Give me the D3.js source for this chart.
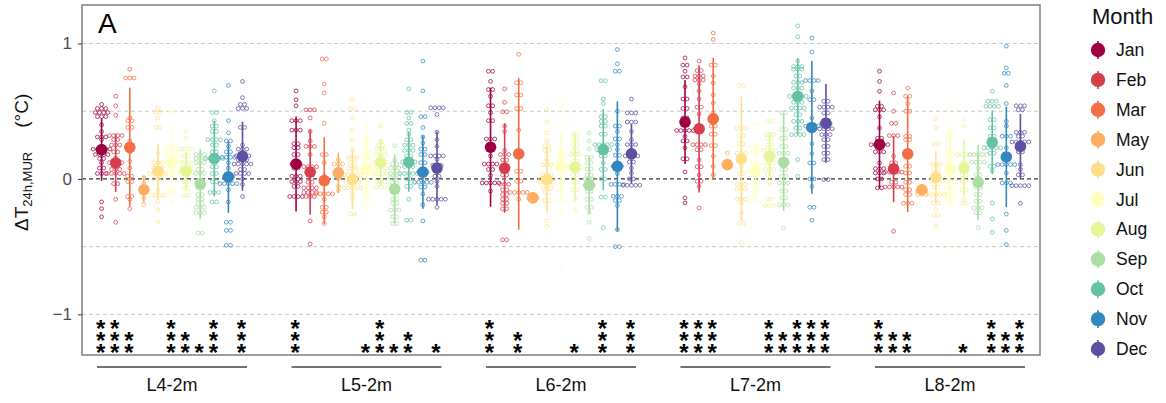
<!DOCTYPE html>
<html>
<head>
<meta charset="utf-8">
<script src="https://cdn.jsdelivr.net/npm/d3@7"></script>
<style>
body { margin: 0; background: #fff; }
text { font-family: "Liberation Sans", Arial, sans-serif; }
</style>
</head>
<body>
<svg id="chart" width="1166" height="403"></svg>
<script>
// Categories
var sites = ["L4-2m", "L5-2m", "L6-2m", "L7-2m", "L8-2m"];
var months = ["Jan", "Feb", "Mar", "May", "Jun", "Jul", "Aug", "Sep", "Oct", "Nov", "Dec"];
var yTicks = [-1, 0, 1];
var yGrid = [-1, -0.5, 0.5, 1];

// Monthly means and SD of dT (degC), one value per month
var meanL4 = [0.216, 0.118, 0.233, -0.08, 0.057, 0.125, 0.057, -0.037, 0.15, 0.015, 0.167];
var sdL4   = [0.23, 0.215, 0.44, 0.10, 0.20, 0.145, 0.14, 0.26, 0.28, 0.265, 0.255];
var meanL5 = [0.11, 0.05, -0.012, 0.045, -0.005, 0.074, 0.123, -0.074, 0.125, 0.05, 0.08];
var sdL5   = [0.35, 0.315, 0.32, 0.15, 0.22, 0.245, 0.175, 0.255, 0.22, 0.27, 0.27];
var meanL6 = [0.234, 0.08, 0.185, -0.14, -0.005, 0.093, 0.086, -0.047, 0.216, 0.093, 0.185];
var sdL6   = [0.44, 0.33, 0.56, 0.02, 0.245, 0.24, 0.245, 0.21, 0.30, 0.48, 0.22];
var meanL7 = [0.42, 0.37, 0.443, 0.106, 0.148, 0.06, 0.167, 0.123, 0.61, 0.38, 0.41];
var sdL7   = [0.31, 0.47, 0.45, 0.03, 0.46, 0.21, 0.17, 0.36, 0.28, 0.49, 0.29];
var meanL8 = [0.253, 0.074, 0.185, -0.08, 0.012, 0.074, 0.08, -0.025, 0.27, 0.162, 0.24];
var sdL8   = [0.325, 0.245, 0.43, 0.03, 0.195, 0.28, 0.205, 0.28, 0.235, 0.37, 0.24];

// Significance stars per month (number of *)
var starsL4 = [3, 3, 2, 0, 0, 3, 2, 1, 3, 0, 3];
var starsL5 = [3, 0, 0, 0, 0, 1, 3, 1, 2, 0, 1];
var starsL6 = [3, 0, 2, 0, 0, 0, 1, 0, 3, 0, 3];
var starsL7 = [3, 3, 3, 0, 0, 0, 3, 2, 3, 3, 3];
var starsL8 = [3, 2, 2, 0, 0, 0, 1, 0, 3, 2, 3];

// Daily values, binned: [value, number of dots in the bin]
var dotsL4 = [
  [[.55,1],[.52,3],[.49,4],[.46,3],[.40,1],[.35,1],[.31,3],[.29,1],[.22,5],[.18,4],[.15,2],[.12,1],[.08,2],[.04,3],[-.17,1],[-.22,1],[-.28,1]],
  [[.61,1],[.54,1],[.47,1],[.32,4],[.29,2],[.25,3],[.20,2],[.155,1],[.12,4],[.07,3],[.04,5],[-.035,2],[-.15,1],[-.32,1]],
  [[.81,1],[.745,3],[.45,1],[.43,2],[.38,2],[.28,1],[.20,1],[.13,1],[.08,1],[.02,2],[-.02,2],[-.13,2],[-.15,1],[-.22,1]],
  [[.01,1],[-.03,1],[-.08,2],[-.14,1],[-.19,1]],
  [[.52,1],[.49,2],[.45,1],[.38,2],[.19,1],[.12,3],[.08,3],[.04,5],[0,3],[-.08,1],[-.12,4],[-.165,1],[-.23,1],[-.32,1]],
  [[.49,2],[.38,1],[.31,1],[.24,3],[.20,4],[.17,4],[.125,5],[.08,3],[.04,5],[-.066,3],[-.10,2],[-.17,1]],
  [[.35,1],[.30,1],[.22,4],[.17,2],[.12,3],[.08,3],[.05,4],[-.02,2],[-.07,2],[-.12,2]],
  [[.18,3],[.15,3],[.12,3],[.07,2],[.04,3],[-.01,2],[-.04,1],[-.066,2],[-.115,2],[-.15,2],[-.18,2],[-.21,3],[-.25,3],[-.40,2]],
  [[.65,1],[.49,2],[.43,1],[.39,2],[.35,2],[.29,4],[.25,2],[.20,2],[.15,5],[.09,2],[.04,2],[-.02,2],[-.10,3],[-.17,2]],
  [[.69,1],[.43,1],[.34,1],[.28,2],[.24,1],[.20,2],[.16,4],[.12,1],[.08,1],[.015,3],[-.035,5],[-.08,1],[-.17,1],[-.32,2],[-.38,2],[-.49,2]],
  [[.72,1],[.60,1],[.55,2],[.52,3],[.38,2],[.25,1],[.22,3],[.17,4],[.14,3],[.11,5],[.07,2],[.04,4],[0,1],[-.04,1],[-.13,1]]
];
var dotsL5 = [
  [[.65,1],[.585,1],[.54,1],[.43,3],[.36,3],[.26,2],[.23,2],[.18,2],[.11,3],[.08,2],[.02,3],[-.02,3],[-.055,2],[-.13,4]],
  [[.51,3],[.45,1],[.35,1],[.28,1],[.24,3],[.18,1],[.09,4],[.045,2],[-.025,2],[-.066,4],[-.10,4],[-.13,3],[-.31,1],[-.48,1]],
  [[.885,2],[.70,1],[.635,1],[.41,1],[.18,2],[.12,1],[.02,1],[-.11,5],[-.15,1],[-.21,2],[-.245,2],[-.28,1],[-.33,1]],
  [[.14,1],[.11,3],[.07,1],[0,1],[-.055,1],[-.085,1]],
  [[.59,1],[.52,2],[.45,1],[.36,1],[.29,1],[.22,1],[.16,3],[.12,2],[.08,3],[.03,5],[-.025,4],[-.065,5],[-.115,1],[-.15,1],[-.26,2]],
  [[.39,1],[.33,1],[.28,2],[.23,2],[.19,3],[.155,3],[.11,2],[.07,5],[.04,5],[0,3],[-.055,3],[-.10,2],[-.15,2],[-.21,1]],
  [[.39,1],[.28,1],[.25,2],[.22,3],[.18,3],[.12,4],[.08,3],[.04,4],[-.02,3],[-.06,3]],
  [[.245,1],[.14,1],[.11,2],[.08,3],[.04,3],[.01,3],[-.03,2],[-.10,2],[-.15,2],[-.18,2],[-.23,3],[-.28,2],[-.33,2]],
  [[.665,1],[.49,2],[.45,1],[.41,2],[.36,1],[.33,1],[.29,2],[.25,3],[.21,3],[.17,2],[.125,4],[.09,3],[.04,5],[0,2],[-.055,2],[-.15,1],[-.305,2]],
  [[.87,1],[.65,1],[.46,2],[.38,1],[.31,1],[.265,1],[.22,2],[.18,2],[.12,2],[.05,3],[-.025,5],[-.06,2],[-.11,1],[-.19,1],[-.31,1],[-.60,2]],
  [[.525,4],[.475,1],[.345,1],[.29,1],[.24,1],[.17,4],[.145,1],[.10,3],[.07,2],[.02,2],[-.02,1],[-.055,1],[-.15,5],[-.21,1]]
];
var dotsL6 = [
  [[.795,2],[.72,1],[.66,2],[.61,1],[.54,2],[.49,1],[.43,2],[.295,3],[.24,1],[.17,1],[.11,4],[.07,2],[.025,1],[-.03,5],[-.09,1]],
  [[.665,1],[.565,1],[.495,2],[.39,1],[.35,1],[.21,1],[.18,3],[.14,2],[.03,2],[-.04,3],[-.08,2],[-.115,2],[-.15,2],[-.18,2],[-.22,2],[-.45,2]],
  [[.92,1],[.71,2],[.62,2],[.52,2],[.36,1],[.057,2],[-.017,2],[-.10,5],[-.15,1]],
  [[-.12,2],[-.14,3],[-.15,1]],
  [[.51,1],[.42,1],[.34,1],[.28,1],[.245,2],[.21,2],[.14,1],[.105,3],[.03,3],[0,4],[-.025,4],[-.066,3],[-.10,2],[-.16,2],[-.31,1],[-.35,1]],
  [[.54,1],[.50,1],[.39,1],[.315,1],[.22,1],[.19,3],[.155,3],[.12,3],[.09,4],[.045,2],[-.017,2],[-.08,2],[-.16,3],[-.24,1],[-.65,1]],
  [[.335,2],[.295,2],[.253,2],[.21,2],[.18,3],[.13,2],[.086,4],[.03,2],[-.025,2],[-.08,2],[-.15,1],[-.235,1]],
  [[.34,1],[.28,1],[.22,1],[.16,2],[.12,2],[.074,2],[.03,2],[0,3],[-.047,3],[-.09,2],[-.15,2],[-.21,2],[-.25,1],[-.32,1],[-.44,1]],
  [[.725,2],[.59,1],[.556,1],[.46,2],[.425,2],[.39,2],[.33,2],[.253,5],[.216,4],[.17,2],[.118,1],[.07,2],[0,2],[-.135,2],[-.36,1]],
  [[.955,1],[.85,1],[.795,2],[.50,1],[.39,2],[.35,1],[.295,2],[.253,1],[.216,1],[.175,2],[.093,3],[.04,1],[-.04,4],[-.128,3],[-.16,2],[-.197,1],[-.374,1],[-.50,2]],
  [[.59,1],[.487,3],[.42,3],[.35,1],[.29,1],[.253,3],[.216,1],[.17,4],[.125,2],[.08,1],[.044,1],[0,2],[-.047,5]]
];
var dotsL7 = [
  [[.893,1],[.84,2],[.795,1],[.753,2],[.68,1],[.59,2],[.52,2],[.45,2],[.357,5],[.315,1],[.28,2],[.23,1],[.148,2],[.052,1],[-.14,1],[-.177,1]],
  [[.87,1],[.80,2],[.76,3],[.73,3],[.70,1],[.65,1],[.59,1],[.53,2],[.48,1],[.365,2],[.253,4],[.216,2],[.14,1],[.09,2],[.03,1],[-.017,2],[-.055,1],[-.214,1]],
  [[1.077,1],[1.03,1],[.84,2],[.758,1],[.708,1],[.62,1],[.56,1],[.49,1],[.39,2],[.33,2],[.246,2],[.167,1],[.093,1],[.03,1]],
  [[.19,1],[.13,1],[.106,2],[.08,1]],
  [[.69,2],[.376,3],[.32,2],[.258,2],[.19,3],[.093,1],[.04,2],[-.04,3],[-.074,3],[-.15,3],[-.18,1],[-.25,1],[-.33,2],[-.47,1]],
  [[.58,1],[.41,2],[.24,3],[.20,2],[.118,3],[.06,4],[.02,2],[-.04,2],[-.10,2],[-.165,3],[-.46,1]],
  [[.425,2],[.33,3],[.30,2],[.25,2],[.21,4],[.167,3],[.118,3],[.07,3],[.03,2],[-.037,1],[-.15,2],[-.197,3]],
  [[.49,2],[.364,2],[.30,2],[.24,2],[.19,3],[.123,2],[.07,2],[.02,2],[-.03,3],[-.09,2],[-.14,2],[-.19,3],[-.36,1]],
  [[1.13,1],[1.05,1],[.873,1],[.83,3],[.81,3],[.76,2],[.713,3],[.67,3],[.61,5],[.565,3],[.524,4],[.475,2],[.425,3],[.376,2],[.327,4],[.143,1],[.02,1]],
  [[1.04,1],[.937,1],[.726,4],[.65,1],[.585,2],[.45,1],[.39,4],[.26,1],[.187,1],[.118,2],[0,2],[-.055,1],[-.21,2],[-.305,1]],
  [[.573,2],[.53,4],[.487,2],[.433,2],[.41,3],[.37,4],[.327,3],[.29,2],[.24,2],[.19,2],[.143,2],[-.005,2]]
];
var dotsL8 = [
  [[.795,1],[.72,1],[.647,1],[.536,2],[.51,3],[.458,1],[.376,1],[.30,2],[.28,2],[.253,5],[.20,3],[.118,1],[.076,3],[.044,3],[0,2],[-.066,2]],
  [[.635,1],[.50,1],[.41,2],[.32,3],[.167,1],[.118,2],[.05,5],[-.025,2],[-.06,5],[-.386,1]],
  [[.67,1],[.61,2],[.556,1],[.50,2],[.315,2],[.29,2],[.093,2],[.044,2],[-.025,2],[-.08,2],[-.115,2],[-.18,3]],
  [[-.066,2],[-.09,3],[-.115,3]],
  [[.445,1],[.38,1],[.26,2],[.11,3],[.07,2],[-.017,3],[-.06,2],[-.115,5],[-.177,2],[-.226,1],[-.27,2],[-.35,1]],
  [[.536,1],[.425,1],[.347,2],[.315,2],[.253,2],[.21,2],[.18,4],[.143,2],[.03,3],[-.017,3],[-.066,3],[-.115,3],[-.15,2],[-.18,2],[-.50,1]],
  [[.44,1],[.39,1],[.18,4],[.118,2],[.03,2],[-.017,2],[-.08,2],[-.15,1],[-.18,2]],
  [[.18,5],[.123,4],[.08,1],[.03,2],[-.066,2],[-.115,2],[-.165,2],[-.214,3],[-.25,2],[-.36,1]],
  [[.647,1],[.573,3],[.536,4],[.438,2],[.376,2],[.315,2],[.23,5],[.19,2],[.093,2],[.06,1],[-.177,1],[-.295,1],[-.394,1]],
  [[.98,1],[.82,1],[.78,2],[.69,1],[.556,1],[.425,1],[.39,1],[.315,3],[.23,1],[.18,2],[.106,5],[.044,1],[-.03,3],[-.26,1],[-.38,1],[-.485,1]],
  [[.54,3],[.51,2],[.344,3],[.315,2],[.273,5],[.20,2],[.106,1],[.07,1],[.03,2],[-.05,5],[-.18,1]]
];

var allMeans = [meanL4, meanL5, meanL6, meanL7, meanL8];
var allSd = [sdL4, sdL5, sdL6, sdL7, sdL8];
var allStars = [starsL4, starsL5, starsL6, starsL7, starsL8];
var allDots = [dotsL4, dotsL5, dotsL6, dotsL7, dotsL8];

// Build one row per site x month
var rows = [];
sites.forEach(function(s, i) {
  months.forEach(function(m, j) {
    rows.push({site: s, month: m, mean: allMeans[i][j], sd: allSd[i][j],
               stars: allStars[i][j], dots: allDots[i][j]});
  });
});

var svg = d3.select("#chart");
var panel = {left: 82, right: 1040, top: 5, bottom: 355};

var color = d3.scaleOrdinal().domain(months).range(d3.schemeSpectral[11]);

var x = d3.scalePoint().domain(sites)
  .range([panel.left, panel.right]).padding(0.463);
var xm = d3.scaleBand().domain(months).range([-77.5, 77.5]);
function mx(d) { return x(d.site) + xm(d.month) + xm.bandwidth() / 2; }

var y = d3.scaleLinear().domain([-1.30, 1.284]).range([panel.bottom, panel.top]);

// Grid lines
svg.selectAll(".grid").data(yGrid).enter().append("line")
  .attr("x1", panel.left).attr("x2", panel.right)
  .attr("y1", function(d) { return y(d); }).attr("y2", function(d) { return y(d); })
  .attr("stroke", "#c8c8c8").attr("stroke-width", 1).attr("stroke-dasharray", "4,3");

svg.append("line")
  .attr("x1", panel.left).attr("x2", panel.right)
  .attr("y1", y(0)).attr("y2", y(0))
  .attr("stroke", "#000").attr("stroke-width", 1).attr("stroke-dasharray", "4,3");

// Dotplot of daily values
var dotStep = 4.2;
var dotData = [];
rows.forEach(function(d) {
  d.dots.forEach(function(b) {
    for (var k = 0; k < b[1]; k++) {
      dotData.push({month: d.month, cx: mx(d) + (k - (b[1] - 1) / 2) * dotStep, v: b[0]});
    }
  });
});

svg.append("g").selectAll("circle").data(dotData).enter().append("circle")
  .attr("cx", function(d) { return d.cx; })
  .attr("cy", function(d) { return y(d.v); })
  .attr("r", 1.9)
  .attr("fill", "none")
  .attr("stroke", function(d) { return color(d.month); })
  .attr("stroke-opacity", 0.75)
  .attr("stroke-width", 1);

// Mean +- SD
var pr = svg.append("g").selectAll("g").data(rows).enter().append("g");
pr.append("line")
  .attr("x1", mx).attr("x2", mx)
  .attr("y1", function(d) { return y(d.mean + d.sd); })
  .attr("y2", function(d) { return y(d.mean - d.sd); })
  .attr("stroke", function(d) { return color(d.month); })
  .attr("stroke-width", 1.6);
pr.append("circle")
  .attr("cx", mx).attr("cy", function(d) { return y(d.mean); })
  .attr("r", 5.8)
  .attr("fill", function(d) { return color(d.month); });

// Stars stacked from the bottom; one text element, each glyph placed by x/y lists
var starRows = [346.4, 334.7, 323];
var starSize = 24;
var sx = [], sy = [];
rows.forEach(function(d) {
  for (var k = 0; k < d.stars; k++) {
    sx.push((mx(d) - 1).toFixed(1));
    sy.push((starRows[k] + 0.6 * starSize).toFixed(1));
  }
});
svg.append("text")
  .attr("x", sx.join(" "))
  .attr("y", sy.join(" "))
  .attr("text-anchor", "middle")
  .attr("font-size", starSize)
  .attr("font-weight", "bold")
  .text(sx.map(function() { return "*"; }).join(""));

// Panel border
svg.append("rect")
  .attr("x", panel.left).attr("y", panel.top)
  .attr("width", panel.right - panel.left).attr("height", panel.bottom - panel.top)
  .attr("fill", "none").attr("stroke", "#7f7f7f").attr("stroke-width", 1.5);

// Y axis
var yAxis = svg.append("g")
  .attr("transform", "translate(" + panel.left + ",0)")
  .call(d3.axisLeft(y).tickValues(yTicks).tickSize(4).tickPadding(6).tickFormat(d3.format("d")));
yAxis.select(".domain").remove();
yAxis.selectAll(".tick line").attr("stroke", "#333");
yAxis.selectAll(".tick text").attr("font-size", 17).attr("fill", "#4d4d4d")
  .style("font-family", "'Liberation Sans', Arial, sans-serif");

// Y label
var yl = svg.append("text")
  .attr("transform", "translate(28,231) rotate(-90)")
  .attr("font-size", 19).attr("fill", "#111");
yl.append("tspan").text("\u0394T");
yl.append("tspan").attr("font-size", 13).attr("dy", 4).text("24h,MUR");
yl.append("tspan").attr("dy", -4).attr("dx", 24).text("(\u00b0C)");

// Panel tag
svg.append("text").attr("x", 98).attr("y", 33)
  .attr("font-size", 28).attr("fill", "#000").text("A");

// Site brackets under the panel
var sg = svg.append("g").selectAll("g").data(sites).enter().append("g");
sg.append("line")
  .attr("x1", function(d) { return x(d) - 75; })
  .attr("x2", function(d) { return x(d) + 75; })
  .attr("y1", 367).attr("y2", 367)
  .attr("stroke", "#444").attr("stroke-width", 1.3);
sg.append("text")
  .attr("x", function(d) { return x(d); }).attr("y", 391)
  .attr("text-anchor", "middle").attr("font-size", 18).attr("fill", "#111")
  .text(function(d) { return d; });

// Legend
var lg = svg.append("g").attr("transform", "translate(1092,0)");
lg.append("text").attr("x", 0).attr("y", 24).attr("font-size", 22).attr("fill", "#111").text("Month");
var li = lg.selectAll(".li").data(months).enter().append("g")
  .attr("transform", function(d, i) { return "translate(0," + (50 + i * 29.9) + ")"; });
li.append("line").attr("x1", 6).attr("x2", 6).attr("y1", -9).attr("y2", 9)
  .attr("stroke", function(d) { return color(d); }).attr("stroke-width", 1.6);
li.append("circle").attr("cx", 6).attr("cy", 0).attr("r", 7.2)
  .attr("fill", function(d) { return color(d); });
li.append("text").attr("x", 24).attr("y", 6).attr("font-size", 17.5).attr("fill", "#111")
  .text(function(d) { return d; });
</script>
</body>
</html>
